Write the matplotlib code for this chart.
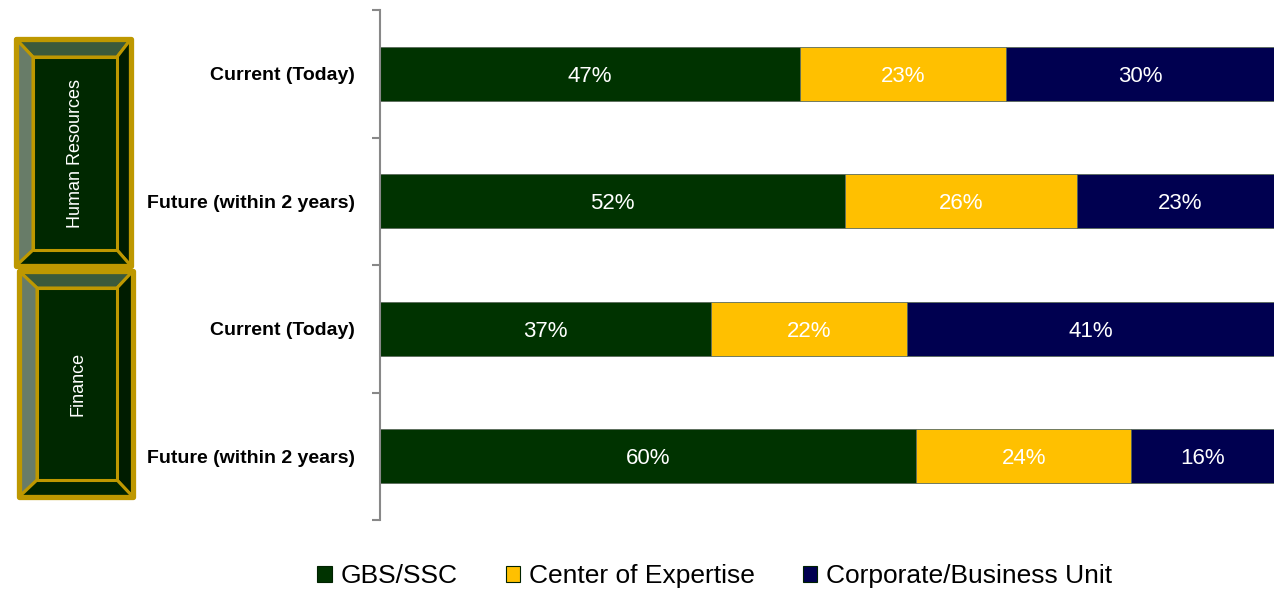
import matplotlib.pyplot as plt
from matplotlib.patches import Polygon, Patch
from matplotlib.ticker import FixedLocator
import numpy as np

plt.rcParams['font.family'] = ['Liberation Sans', 'DejaVu Sans']

categories = ['Current (Today)', 'Future (within 2 years)', 'Current (Today)', 'Future (within 2 years)']
series = ['GBS/SSC', 'Center of Expertise', 'Corporate/Business Unit']
gbs = [47, 52, 37, 60]
coe = [23, 26, 22, 24]
corp = [30, 23, 41, 16]
groups = ['Human Resources', 'Finance']

colors = ['#003300', '#FFC000', '#000050']

W, H = 1274, 592
fig = plt.figure(figsize=(W / 100, H / 100), dpi=100)
ax = fig.add_axes([380 / W, 1 - 520 / H, 1 - 380 / W, 510 / H])

y = np.arange(len(categories))
left = np.zeros(len(categories))
for vals, col, name in zip([gbs, coe, corp], colors, series):
    v = np.array(vals) / 100
    ax.barh(y, v, left=left, height=0.42, color=col, edgecolor='#5a6a5a', linewidth=0.6, label=name)
    for yi, l, w, t in zip(y, left, v, vals):
        ax.text(l + w / 2, yi + 0.02, f'{t}%', ha='center', va='center', color='white', fontsize=16)
    left += v

ax.set_xlim(0, 1)
ax.set_ylim(3.5, -0.5)
ax.set_yticks(y)
ax.set_yticklabels(categories, fontsize=14, fontweight='bold')
ax.yaxis.set_minor_locator(FixedLocator([-0.5, 0.5, 1.5, 2.5, 3.5]))
ax.tick_params(axis='y', which='major', length=0, pad=18)
ax.tick_params(axis='y', which='minor', length=6, width=1.5, color='#888888')
ax.set_xticks([])
for s in ['top', 'right', 'bottom']:
    ax.spines[s].set_visible(False)
ax.spines['left'].set_color('#888888')
ax.spines['left'].set_linewidth(1.5)

# beveled group boxes (pixel coordinates)
ov = fig.add_axes([0, 0, 1, 1], zorder=-1)
ov.set_xlim(0, W)
ov.set_ylim(H, 0)
ov.axis('off')
gold = '#BE9800'
boxes = [((16, 39, 131, 266), (33, 57, 117, 250)),
         ((19, 271, 133, 497), (37, 288, 117, 480))]
for (outer, inner), name in zip(boxes, groups):
    x0, y0, x1, y1 = outer
    a0, b0, a1, b1 = inner
    faces = [
        ([(x0, y0), (x1, y0), (a1, b0), (a0, b0)], '#3B5A3B'),
        ([(x0, y0), (a0, b0), (a0, b1), (x0, y1)], '#687C68'),
        ([(x1, y0), (x1, y1), (a1, b1), (a1, b0)], '#001C00'),
        ([(x0, y1), (a0, b1), (a1, b1), (x1, y1)], '#002400'),
        ([(a0, b0), (a1, b0), (a1, b1), (a0, b1)], '#002800'),
    ]
    for pts, c in faces:
        ov.add_patch(Polygon(pts, closed=True, facecolor=c, edgecolor=gold, linewidth=2.2, joinstyle='round'))
    ov.add_patch(Polygon([(x0, y0), (x1, y0), (x1, y1), (x0, y1)], closed=True, fill=False,
                         edgecolor=gold, linewidth=3.8, joinstyle='round'))
    ov.text((a0 + a1) / 2 + 1, (b0 + b1) / 2, name, rotation=90, ha='center', va='center',
            color='white', fontsize=13)

handles = [Patch(facecolor=c, edgecolor='#002200', linewidth=0.8) for c in colors]
fig.legend(handles, series, loc='center', bbox_to_anchor=(715 / W, 1 - 576 / H), ncol=3,
           frameon=False, fontsize=19, handlelength=0.55, handleheight=0.55,
           handletextpad=0.35, columnspacing=1.8)

fig.savefig('out.png', dpi=100)
